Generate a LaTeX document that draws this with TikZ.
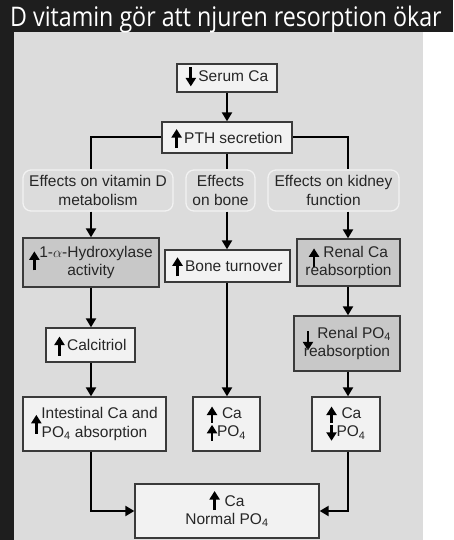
\documentclass[tikz,border=0pt]{standalone}
\usepackage{fontspec}
\setmainfont{Liberation Sans}
\newfontfamily\titlefont{Open Sans}
\usetikzlibrary{arrows.meta,calc}
\definecolor{panel}{HTML}{DCDCDC}
\definecolor{boxgray}{HTML}{C8C8C8}
\definecolor{boxwhite}{HTML}{F2F2F2}
\definecolor{bord}{HTML}{3A3A3A}
\definecolor{txt}{HTML}{262626}
\definecolor{dark}{HTML}{1E1E1E}
\tikzset{
  glyph/.style={line width=2.8pt, draw=black, -{Triangle[length=8.5pt,width=10pt]}},
  box/.style={draw=bord, line width=1.3pt, text=txt, inner sep=0pt, align=center,
    font=\fontsize{15.5}{18.3}\selectfont},
  gbox/.style={box, fill=boxgray},
  wbox/.style={box, fill=boxwhite},
  eff/.style={draw=boxwhite, line width=1.3pt, rounded corners=8pt, fill=panel, text=txt,
    inner sep=0pt, align=center, font=\fontsize{15.5}{18.3}\selectfont},
  conn/.style={line width=2pt, draw=black},
  arr/.style={conn, -{Triangle[length=9pt,width=10pt]}}
}
\newcommand\UpA[1][5]{\smash{\tikz[baseline=#1pt]\draw[glyph] (0pt,0pt) -- (0pt,19pt);}}
\newcommand\DnA[1][5]{\smash{\tikz[baseline=#1pt]\draw[glyph] (0pt,19pt) -- (0pt,0pt);}}
\newcommand\UpS{\smash{\tikz[baseline=4pt]\draw[glyph] (0pt,0pt) -- (0pt,16pt);}}
\newcommand\DnS{\smash{\tikz[baseline=4pt]\draw[glyph] (0pt,16pt) -- (0pt,0pt);}}
\begin{document}
\begin{tikzpicture}[x=1pt,y=-1pt]
\useasboundingbox (0,0) rectangle (453,540);
\fill[white] (0,0) rectangle (453,540);
\fill[dark] (0,0) rectangle (453,32);
\fill[dark] (0,32) rectangle (14,540);
\fill[panel] (14,32) rectangle (423,540);
\node[anchor=base west, text=white, inner sep=0pt, font=\titlefont\fontsize{27}{30}\selectfont] (title) at (10,27) {\scalebox{0.86}[1]{D vitamin gör att njuren resorption ökar}};

\coordinate (cL) at (91,0);
\coordinate (cC) at (227,0);
\coordinate (cR) at (348,0);

\node[wbox, minimum width=100pt, minimum height=28pt] (serum) at (227,78) {\raisebox{4pt}{\DnA\,Serum Ca}};
\node[wbox, minimum width=130pt, minimum height=31pt] (pth) at (227,137.5) {\UpA\,PTH secretion};
\node[eff, minimum width=150pt, minimum height=41pt] (effD) at (98,190.5) {Effects on vitamin D\\metabolism};
\node[eff, minimum width=69pt, minimum height=41pt] (effB) at (220.5,190.5) {Effects\\on bone};
\node[eff, minimum width=131pt, minimum height=41pt] (effK) at (333.5,190.5) {Effects on kidney\\function};
\node[gbox, minimum width=136pt, minimum height=49pt] (hyd) at (91,262.5) {\UpA[13]1-$\alpha$-Hydroxylase\\activity};
\node[wbox, minimum width=125pt, minimum height=32pt] (bone) at (227.5,266) {\UpA\,Bone turnover};
\node[gbox, minimum width=103pt, minimum height=47pt] (rca) at (348.5,262.5) {\UpA[10]\ Renal Ca\\reabsorption};
\node[gbox, minimum width=106pt, minimum height=55pt] (rpo) at (347,343.5) {\DnA[12]\ Renal PO\textsubscript{4}\\reabsorption};
\node[wbox, minimum width=89pt, minimum height=34pt] (calc) at (90.5,345) {\UpA\,Calcitriol};
\node[wbox, minimum width=143pt, minimum height=54pt] (intest) at (94.5,424) {\UpA[15]Intestinal Ca and\\PO\textsubscript{4} absorption};
\node[wbox, minimum width=67pt, minimum height=54pt] (mid) at (226.5,424) {\begin{tabular}{@{}l@{}}\UpS\hspace{5pt}Ca\\\UpS PO\textsubscript{4}\end{tabular}};
\node[wbox, minimum width=68pt, minimum height=54pt] (rgt) at (346,424) {\begin{tabular}{@{}l@{}}\UpS\hspace{5pt}Ca\\\DnS PO\textsubscript{4}\end{tabular}};
\node[wbox, minimum width=184pt, minimum height=54pt] (bot) at (227,511) {\UpA[4]\hspace{5pt}Ca\\Normal PO\textsubscript{4}};

\draw[arr] (serum.south) -- (pth.north);
\draw[conn] (pth.west) -| (effD.north -| cL);
\draw[conn] (pth.east) -| (effK.north -| cR);
\draw[conn] (pth.south) -- (effB.north -| cC);
\draw[arr] (effD.south -| cL) -- (hyd.north -| cL);
\draw[arr] (effB.south -| cC) -- (bone.north -| cC);
\draw[arr] (effK.south -| cR) -- (rca.north -| cR);
\draw[arr] (hyd.south -| cL) -- (calc.north -| cL);
\draw[arr] (rca.south -| cR) -- (rpo.north -| cR);
\draw[arr] (calc.south -| cL) -- (intest.north -| cL);
\draw[arr] (bone.south -| cC) -- (mid.north -| cC);
\draw[arr] (rpo.south -| cR) -- (rgt.north -| cR);
\draw[arr] (intest.south -| cL) |- (bot.west);
\draw[arr] (rgt.south -| cR) |- (bot.east);
\end{tikzpicture}
\end{document}
